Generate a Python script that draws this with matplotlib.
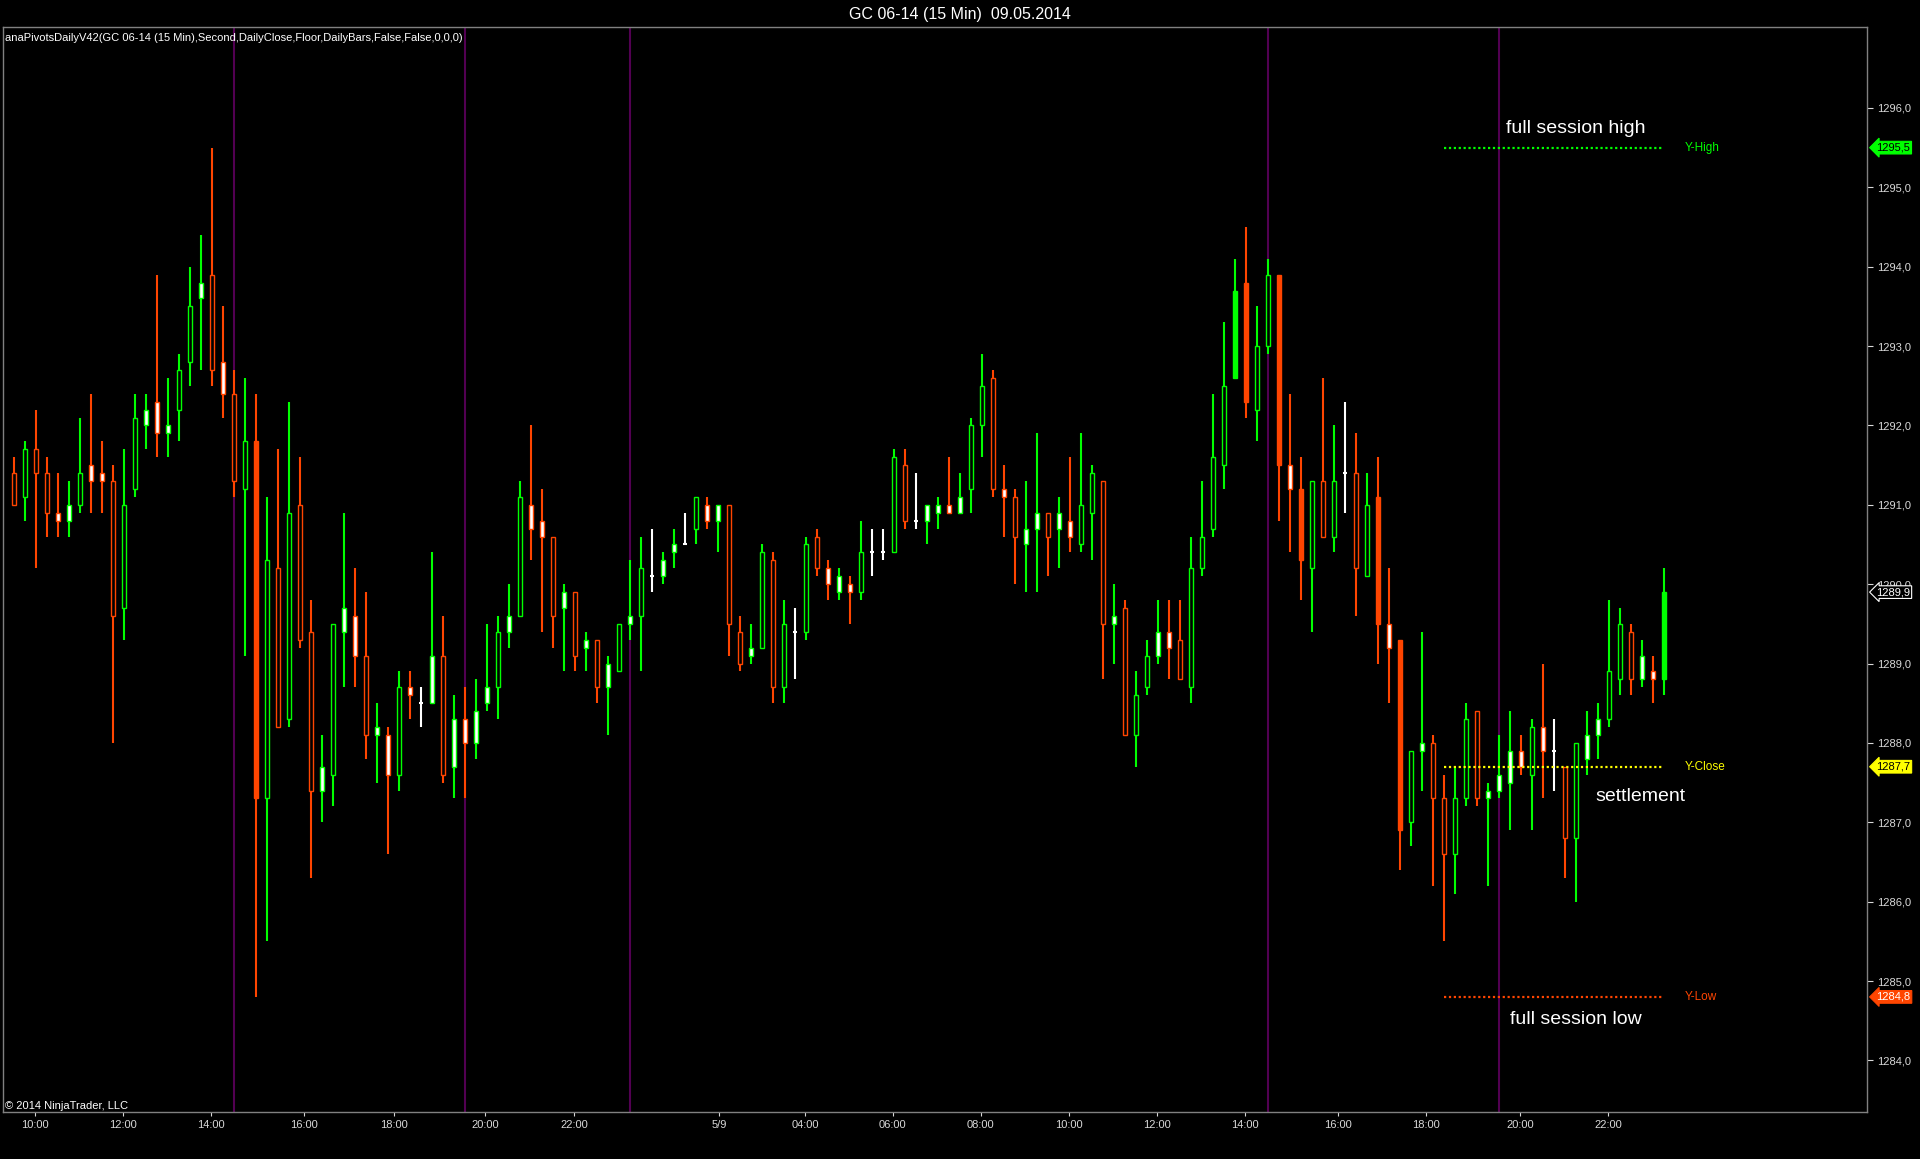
import matplotlib.pyplot as plt
from matplotlib.patches import Rectangle
from matplotlib.transforms import blended_transform_factory
import numpy as np

plt.rcParams['font.family'] = ['Liberation Sans', 'DejaVu Sans']

# 15-minute bars, GC 06-14, 08.05.2014 09:30 .. 09.05.2014
opens = [1291.4, 1291.1, 1291.7, 1291.4, 1290.9, 1290.8, 1291.0, 1291.5, 1291.4, 1291.3,
         1289.7, 1291.2, 1292.0, 1292.3, 1291.9, 1292.2, 1292.8, 1293.6, 1293.9, 1292.8,
         1292.4, 1291.2, 1291.8, 1287.3, 1290.2, 1288.3, 1291.0, 1289.4, 1287.4, 1287.6,
         1289.4, 1289.6, 1289.1, 1288.1, 1288.1, 1287.6, 1288.7, 1288.5, 1288.5, 1289.1,
         1287.7, 1288.3, 1288.0, 1288.5, 1288.7, 1289.4, 1289.6, 1291.0, 1290.8, 1290.6,
         1289.7, 1289.9, 1289.2, 1289.3, 1288.7, 1288.9, 1289.5, 1289.6, 1290.1, 1290.1,
         1290.4, 1290.5, 1290.7, 1291.0, 1290.8, 1291.0, 1289.4, 1289.1, 1289.2, 1290.3,
         1288.7, 1289.4, 1289.4, 1290.6, 1290.2, 1289.9, 1290.0, 1289.9, 1290.4, 1290.4,
         1290.4, 1291.5, 1290.8, 1290.8, 1290.9, 1291.0, 1290.9, 1291.2, 1292.0, 1292.6,
         1291.2, 1291.1, 1290.5, 1290.7, 1290.9, 1290.7, 1290.8, 1290.5, 1290.9, 1291.3,
         1289.5, 1289.7, 1288.1, 1288.7, 1289.1, 1289.4, 1289.3, 1288.7, 1290.2, 1290.7,
         1291.5, 1292.6, 1293.8, 1292.2, 1293.0, 1293.9, 1291.5, 1291.2, 1290.2, 1291.3,
         1290.6, 1291.4, 1291.4, 1290.1, 1291.1, 1289.5, 1289.3, 1287.0, 1287.9, 1288.0,
         1287.3, 1286.6, 1287.3, 1288.4, 1287.3, 1287.4, 1287.5, 1287.9, 1287.6, 1288.2,
         1287.9, 1287.7, 1286.8, 1287.8, 1288.1, 1288.3, 1288.8, 1289.4, 1288.8, 1288.9,
         1288.8]
highs = [1291.6, 1291.8, 1292.2, 1291.6, 1291.4, 1291.3, 1292.1, 1292.4, 1291.8, 1291.5,
         1291.7, 1292.4, 1292.4, 1293.9, 1292.6, 1292.9, 1294.0, 1294.4, 1295.5, 1293.5,
         1292.7, 1292.6, 1292.4, 1291.1, 1291.7, 1292.3, 1291.6, 1289.8, 1288.1, 1289.5,
         1290.9, 1290.2, 1289.9, 1288.5, 1288.2, 1288.9, 1288.9, 1288.7, 1290.4, 1289.6,
         1288.6, 1288.7, 1288.8, 1289.5, 1289.6, 1290.0, 1291.3, 1292.0, 1291.2, 1290.6,
         1290.0, 1289.9, 1289.4, 1289.3, 1289.1, 1289.5, 1290.3, 1290.6, 1290.7, 1290.4,
         1290.7, 1290.9, 1291.1, 1291.1, 1291.0, 1291.0, 1289.6, 1289.5, 1290.5, 1290.4,
         1289.8, 1289.7, 1290.6, 1290.7, 1290.3, 1290.2, 1290.1, 1290.8, 1290.7, 1290.7,
         1291.7, 1291.7, 1291.4, 1291.0, 1291.1, 1291.6, 1291.4, 1292.1, 1292.9, 1292.7,
         1291.5, 1291.2, 1291.3, 1291.9, 1290.9, 1291.1, 1291.6, 1291.9, 1291.5, 1291.3,
         1290.0, 1289.8, 1288.9, 1289.3, 1289.8, 1289.8, 1289.8, 1290.6, 1291.3, 1292.4,
         1293.3, 1294.1, 1294.5, 1293.5, 1294.1, 1293.9, 1292.4, 1291.6, 1291.3, 1292.6,
         1292.0, 1292.3, 1291.9, 1291.4, 1291.6, 1290.2, 1289.3, 1287.9, 1289.4, 1288.1,
         1287.6, 1287.7, 1288.5, 1288.4, 1287.5, 1288.1, 1288.4, 1288.1, 1288.3, 1289.0,
         1288.3, 1287.7, 1288.0, 1288.4, 1288.5, 1289.8, 1289.7, 1289.5, 1289.3, 1289.1,
         1290.2]
lows = [1291.0, 1290.8, 1290.2, 1290.6, 1290.6, 1290.6, 1290.9, 1290.9, 1290.9, 1288.0,
        1289.3, 1291.1, 1291.7, 1291.6, 1291.6, 1291.8, 1292.5, 1292.7, 1292.5, 1292.1,
        1291.1, 1289.1, 1284.8, 1285.5, 1288.2, 1288.2, 1289.2, 1286.3, 1287.0, 1287.2,
        1288.7, 1288.7, 1287.8, 1287.5, 1286.6, 1287.4, 1288.3, 1288.2, 1288.5, 1287.5,
        1287.3, 1287.3, 1287.8, 1288.4, 1288.3, 1289.2, 1289.6, 1290.3, 1289.4, 1289.2,
        1288.9, 1288.9, 1288.9, 1288.5, 1288.1, 1288.9, 1289.3, 1288.9, 1289.9, 1290.0,
        1290.2, 1290.5, 1290.5, 1290.7, 1290.4, 1289.1, 1288.9, 1289.0, 1289.2, 1288.5,
        1288.5, 1288.8, 1289.3, 1290.1, 1289.8, 1289.8, 1289.5, 1289.8, 1290.1, 1290.3,
        1290.4, 1290.7, 1290.7, 1290.5, 1290.7, 1290.9, 1290.9, 1290.9, 1291.6, 1291.1,
        1290.6, 1290.0, 1289.9, 1289.9, 1290.1, 1290.2, 1290.4, 1290.4, 1290.3, 1288.8,
        1289.0, 1288.1, 1287.7, 1288.6, 1289.0, 1288.8, 1288.8, 1288.5, 1290.1, 1290.6,
        1291.2, 1292.6, 1292.1, 1291.8, 1292.9, 1290.8, 1290.4, 1289.8, 1289.4, 1290.6,
        1290.4, 1290.9, 1289.6, 1290.1, 1289.0, 1288.5, 1286.4, 1286.7, 1287.4, 1286.2,
        1285.5, 1286.1, 1287.2, 1287.2, 1286.2, 1287.3, 1286.9, 1287.6, 1286.9, 1287.3,
        1287.4, 1286.3, 1286.0, 1287.6, 1287.8, 1288.2, 1288.6, 1288.6, 1288.7, 1288.5,
        1288.6]
closes = [1291.0, 1291.7, 1291.4, 1290.9, 1290.8, 1291.0, 1291.4, 1291.3, 1291.3, 1289.6,
          1291.0, 1292.1, 1292.2, 1291.9, 1292.0, 1292.7, 1293.5, 1293.8, 1292.7, 1292.4,
          1291.3, 1291.8, 1287.3, 1290.3, 1288.2, 1290.9, 1289.3, 1287.4, 1287.7, 1289.5,
          1289.7, 1289.1, 1288.1, 1288.2, 1287.6, 1288.7, 1288.6, 1288.5, 1289.1, 1287.6,
          1288.3, 1288.0, 1288.4, 1288.7, 1289.4, 1289.6, 1291.1, 1290.7, 1290.6, 1289.6,
          1289.9, 1289.1, 1289.3, 1288.7, 1289.0, 1289.5, 1289.6, 1290.2, 1290.1, 1290.3,
          1290.5, 1290.5, 1291.1, 1290.8, 1291.0, 1289.5, 1289.0, 1289.2, 1290.4, 1288.7,
          1289.5, 1289.4, 1290.5, 1290.2, 1290.0, 1290.1, 1289.9, 1290.4, 1290.4, 1290.4,
          1291.6, 1290.8, 1290.8, 1291.0, 1291.0, 1290.9, 1291.1, 1292.0, 1292.5, 1291.2,
          1291.1, 1290.6, 1290.7, 1290.9, 1290.6, 1290.9, 1290.6, 1291.0, 1291.4, 1289.5,
          1289.6, 1288.1, 1288.6, 1289.1, 1289.4, 1289.2, 1288.8, 1290.2, 1290.6, 1291.6,
          1292.5, 1293.7, 1292.3, 1293.0, 1293.9, 1291.5, 1291.2, 1290.3, 1291.3, 1290.6,
          1291.3, 1291.4, 1290.2, 1291.0, 1289.5, 1289.2, 1286.9, 1287.9, 1288.0, 1287.3,
          1286.6, 1287.3, 1288.3, 1287.3, 1287.4, 1287.6, 1287.9, 1287.7, 1288.2, 1287.9,
          1287.9, 1286.8, 1288.0, 1288.1, 1288.3, 1288.9, 1289.5, 1288.8, 1289.1, 1288.8,
          1289.9]
# body fill: h = hollow, w = white, s = solid, d = doji
fills = ("hhhhwwhwwh" "hhwwwhhwhw" "hhshhhhhwh" "wwhwwhwdwh" "wwwwhwhwwh"
         "whwhwhwhdw" "wdhwwhhwhh" "hdhhwwwhdd" "hhdwwwwhhh" "whwwhwwhhh"
         "whhhwwhhhh" "hsshhswshh" "hdhhswshwh" "hhhhwwwwhw" "dhhwwhhhww" "s")

tick_labels = ['10:00', '12:00', '14:00', '16:00', '18:00', '20:00', '22:00', '5/9',
               '04:00', '06:00', '08:00', '10:00', '12:00', '14:00', '16:00', '18:00',
               '20:00', '22:00']
tick_pos = [1.9, 9.9, 17.9, 26.4, 34.5, 42.8, 50.9, 64.1, 71.9, 79.9, 87.9, 95.9,
            103.9, 111.9, 120.4, 128.4, 136.9, 144.9]
session_bars = [20, 41, 56, 114, 135]

y_high, y_close, y_low = 1295.5, 1287.7, 1284.8
level_start, level_end = 130, 150

UP = '#00ff00'
DOWN = '#ff4500'

fig = plt.figure(figsize=(19.2, 11.59), dpi=100, facecolor='black')
ax = fig.add_axes([3 / 1920, 47 / 1159, 1864 / 1920, 1085 / 1159], facecolor='black')
ax.set_xlim(-1.0, 168.45)
ax.set_ylim(1283.35, 1297.02)

for b in session_bars:
    ax.axvline(b, color='#520052', lw=1.5, zorder=1)

w = 0.43
for i in range(len(opens)):
    o, h, l, c = opens[i], highs[i], lows[i], closes[i]
    f = fills[i]
    if f == 'd' or o == c:
        ax.vlines(i, l, h, color='white', lw=1.5, zorder=2)
        ax.hlines(o, i - w / 2, i + w / 2, color='white', lw=1.5, zorder=3)
        continue
    col = UP if c > o else DOWN
    ax.vlines(i, l, h, color=col, lw=1.5, zorder=2)
    face = {'h': 'black', 'w': 'white', 's': col}[f]
    ax.add_patch(Rectangle((i - w / 2, min(o, c)), w, abs(c - o), facecolor=face,
                           edgecolor=col, lw=1.0, zorder=3))

# yesterday high / close / low levels
for lvl, col, name in [(y_high, '#00ff00', 'Y-High'), (y_close, '#ffff00', 'Y-Close'),
                       (y_low, '#ff4500', 'Y-Low')]:
    ax.hlines(lvl, level_start, level_end, color=col, lw=1.6, linestyles=(0, (1, 1.2)), zorder=4)
    ax.text(level_end + 1.9, lvl, name, color=col, fontsize=8.5, va='center', ha='left')

ax.text(142.0, 1295.74, 'full session high', color='white', fontsize=14, ha='center', va='center')
ax.text(147.9, 1287.32, 'settlement', color='white', fontsize=14, ha='center', va='center')
ax.text(142.0, 1284.51, 'full session low', color='white', fontsize=14, ha='center', va='center')

ax.text(0.001, 1 - 11 / 1085, 'anaPivotsDailyV42(GC 06-14 (15 Min),Second,DailyClose,Floor,DailyBars,False,False,0,0,0)',
        transform=ax.transAxes, color='white', fontsize=8, va='center', ha='left')
ax.text(0.001, 6 / 1085, '\u00a9 2014 NinjaTrader, LLC', transform=ax.transAxes,
        color='white', fontsize=8, va='center', ha='left')

fig.text(0.5, 1 - 14 / 1159, 'GC 06-14 (15 Min)  09.05.2014', color='white', fontsize=11.5,
         ha='center', va='center')

# price axis on the right
ax.yaxis.tick_right()
ax.set_yticks(np.arange(1284, 1297))
ax.set_yticklabels([f'{v:.1f}'.replace('.', ',') for v in np.arange(1284, 1297)])
ax.tick_params(axis='y', colors='#d8d8d8', labelsize=8, length=4, pad=3)
ax.set_xticks(tick_pos)
ax.set_xticklabels(tick_labels)
ax.tick_params(axis='x', colors='#d8d8d8', labelsize=8, length=3, pad=3)
for s in ax.spines.values():
    s.set_color('#808080')
    s.set_linewidth(1)

# price tags
tr = blended_transform_factory(ax.transAxes, ax.transData)
for lvl, fc, tc, ec in [(y_high, '#00ff00', 'black', '#00ff00'), (closes[-1], 'black', 'white', 'white'),
                        (y_close, '#ffff00', 'black', '#ffff00'), (y_low, '#ff4500', 'white', '#ff4500')]:
    ax.text(1.005, lvl, f'{lvl:.1f}'.replace('.', ','), transform=tr, color=tc, fontsize=8,
            va='center', ha='left', clip_on=False,
            bbox=dict(boxstyle='larrow,pad=0.12', fc=fc, ec=ec, lw=0.8))

fig.savefig('out.png', dpi=100, facecolor='black')
